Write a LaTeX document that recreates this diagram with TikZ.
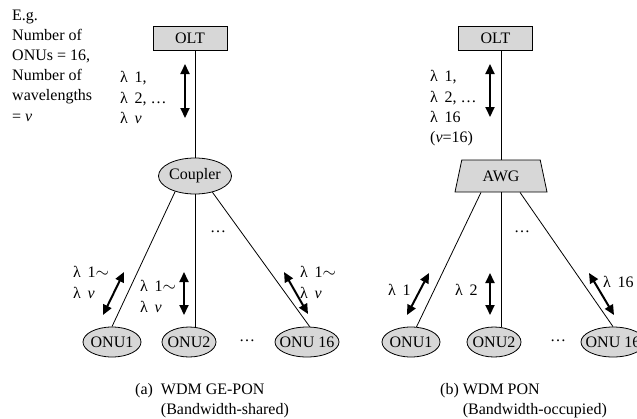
\documentclass[tikz,border=0pt]{standalone}
\usepackage{fontspec}
\setmainfont{Liberation Serif}
\usetikzlibrary{arrows.meta,shapes.geometric,calc}
\definecolor{boxgray}{RGB}{215,215,215}
\newcommand{\lam}{λ\,~}
\begin{document}
\begin{tikzpicture}[x=1pt,y=-1pt,
  every node/.style={font=\fontsize{16}{20.2}\selectfont},
  box/.style={draw, line width=0.8pt, fill=boxgray, minimum width=74pt, minimum height=24pt, inner sep=0pt},
  oval/.style={draw, ellipse, line width=0.8pt, fill=boxgray, inner sep=0pt, minimum height=30pt},
  trap/.style={draw, trapezium, trapezium angle=58, trapezium stretches body, line width=0.8pt, fill=boxgray, inner sep=0pt, minimum width=92pt, minimum height=32pt},
  wire/.style={line width=0.8pt},
  dbl/.style={line width=2pt, {Triangle[length=10pt,width=9pt]}-{Triangle[length=10pt,width=9pt]}},
  lab/.style={align=left, anchor=north west, inner sep=0pt}]
\useasboundingbox (0,0) rectangle (637,418);
\clip (0,0) rectangle (637,418);

% ---------- left panel ----------
\node[lab] (eg) at (12,9.5) {E.g.\\Number of\\ONUs = 16,\\Number of\\wavelengths\\= \textit{v}};
\node[box] (olta) at (190,38) {OLT};
\node[oval, minimum width=73pt, minimum height=36pt] (coup) at (195,176) {\makebox[0pt]{Coupler}};
\node[oval, minimum width=58pt] (a1) at (112,342) {\makebox[0pt]{ONU1}};
\node[oval, minimum width=54pt] (a2) at (189,342) {\makebox[0pt]{ONU2}};
\node[oval, minimum width=64pt] (a3) at (307,342) {\makebox[0pt]{ONU 16}};

\draw[wire] (olta.south -| coup.north) -- (coup.north);
\draw[wire] (coup.218) -- (a1.north);
\draw[wire] (coup.south) -- (coup.south |- a2.north);
\draw[wire] (coup.317) -- (a3.80);

\coordinate (ta1) at (185,64); \coordinate (ta2) at (185,118);
\draw[dbl] (ta1) -- (ta2);
\node[lab] (lta) at (120,71.5) {\lam 1,\\\lam 2, …\\\lam \textit{v}};

\coordinate (pa1) at (103,315); \coordinate (qa1) at (124,272);
\draw[dbl] (pa1) -- (qa1);
\coordinate (pa2) at (184,315); \coordinate (qa2) at (184,272);
\draw[dbl] (pa2) -- (qa2);
\coordinate (pa3) at (308,314); \coordinate (qa3) at (284,272);
\draw[dbl] (pa3) -- (qa3);
\node[lab] (la1) at (73,266.5) {\lam 1$\sim$\\\lam \textit{v}};
\node[lab] (la2) at (140,280.5) {\lam 1$\sim$\\\lam \textit{v}};
\node[lab] (la3) at (300,266.5) {\lam 1$\sim$\\\lam \textit{v}};

\node (da1) at (218,232) {…};
\node (da2) at (247,341) {…};

\node[lab] (capa) at (135,383) {(a)\ \ WDM GE-PON\\\hphantom{(a)\ \ }(Bandwidth-shared)};

% ---------- right panel ----------
\node[box] (oltb) at (495.5,38) {OLT};
\node[trap] (awg) at (501,176) {\makebox[0pt]{AWG}};
\node[oval, minimum width=58pt] (b1) at (411,342) {\makebox[0pt]{ONU1}};
\node[oval, minimum width=54pt] (b2) at (494,342) {\makebox[0pt]{ONU2}};
\node[oval, minimum width=64pt] (b3) at (613,342) {\makebox[0pt]{ONU 16}};

\draw[wire] (oltb.south -| awg.north) -- (awg.north);
\draw[wire] ($(awg.south)+(-20,0)$) -- (b1.70);
\draw[wire] (awg.south) -- (awg.south |- b2.north);
\draw[wire] ($(awg.south)+(19,0)$) -- (b3.north);

\coordinate (tb1) at (490,64); \coordinate (tb2) at (490,117);
\draw[dbl] (tb1) -- (tb2);
\node[lab] (ltb) at (430,70.5) {\lam 1,\\\lam 2, …\\\lam 16\\(\textit{v}=16)};

\coordinate (pb1) at (407,315); \coordinate (qb1) at (429,273);
\draw[dbl] (pb1) -- (qb1);
\coordinate (pb2) at (490,315); \coordinate (qb2) at (490,273);
\draw[dbl] (pb2) -- (qb2);
\coordinate (pb3) at (614,315); \coordinate (qb3) at (589,273);
\draw[dbl] (pb3) -- (qb3);
\node[lab] (lb1) at (388,284.5) {\lam 1};
\node[lab] (lb2) at (455,284.5) {\lam 2};
\node[lab] (lb3) at (603,276.5) {\lam 16};

\node (db1) at (522,232) {…};
\node (db2) at (558,341) {…};

\node[lab] (capb) at (440,383) {(b) WDM PON\\\hphantom{(b) }(Bandwidth-occupied)};
\end{tikzpicture}
\end{document}
